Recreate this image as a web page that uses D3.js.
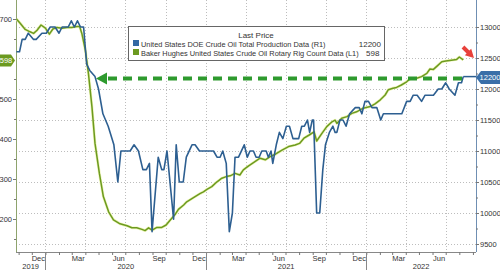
<!DOCTYPE html>
<html>
<head>
<meta charset="utf-8">
<script src="https://cdn.jsdelivr.net/npm/d3@7"></script>
<style>
body { margin: 0; background: #fff; }
text { font-family: "Liberation Sans", Arial, sans-serif; }
</style>
</head>
<body>
<div id="chart"></div>
<script>
// US crude production (R1, thousand b/d) - weekly
var prodDates = ["2019-10-27","2019-11-03","2019-11-09","2019-11-16","2019-11-23","2019-12-05","2019-12-11","2019-12-24",
  "2020-01-03","2020-01-12","2020-01-23","2020-02-01","2020-02-08","2020-02-22","2020-02-29","2020-03-07","2020-03-14",
  "2020-03-21","2020-03-28","2020-04-04","2020-04-11","2020-04-23","2020-05-01","2020-05-11","2020-05-23","2020-06-05",
  "2020-06-14","2020-06-21","2020-07-12","2020-07-21","2020-07-31","2020-08-10","2020-08-18","2020-08-25","2020-08-31",
  "2020-09-14","2020-09-22","2020-09-27","2020-10-04","2020-10-19","2020-10-25","2020-11-01","2020-11-10","2020-11-17",
  "2020-11-30","2020-12-07","2020-12-17","2021-01-18","2021-01-26","2021-02-02","2021-02-08","2021-02-16","2021-02-23",
  "2021-03-02","2021-03-08","2021-03-16","2021-03-29","2021-04-05","2021-04-11","2021-04-19","2021-04-25","2021-05-02",
  "2021-05-08","2021-05-18","2021-05-23","2021-05-29","2021-06-02","2021-06-10","2021-06-17","2021-06-25","2021-07-03",
  "2021-07-10","2021-07-18","2021-07-31","2021-08-07","2021-08-13","2021-08-20","2021-08-25","2021-08-31","2021-09-03",
  "2021-09-10","2021-09-17","2021-09-24","2021-09-30","2021-10-09","2021-10-17","2021-10-22","2021-10-26","2021-11-02",
  "2021-11-09","2021-11-16","2021-11-24","2021-12-07","2021-12-16","2021-12-22","2021-12-29","2022-01-06","2022-01-14",
  "2022-01-25","2022-02-03","2022-02-09","2022-03-23","2022-04-03","2022-04-11","2022-04-18","2022-04-27","2022-05-07",
  "2022-05-15","2022-06-03","2022-06-14","2022-06-22","2022-07-01","2022-07-09","2022-07-22","2022-07-30","2022-08-06",
  "2022-08-10"];
var prodValues = [12600,12600,12800,12800,12900,12800,12800,12900,
  12900,13000,13000,12900,13000,13000,13100,13000,13100,
  13000,13000,12400,12300,12200,12000,11600,11400,11100,
  10500,11000,11000,11100,11000,10700,10700,10800,9700,
  10900,10700,10700,11000,9900,11100,10500,10500,10900,
  11100,11100,11000,11000,10900,10900,11000,10800,9700,
  10000,10900,10900,11100,10900,11000,11000,10900,10900,
  11000,11000,10900,11000,10800,11100,11300,11200,11400,
  11400,11200,11200,11400,11400,11500,11300,11500,11500,
  10000,10000,10700,11100,11300,11400,11300,11300,11500,
  11500,11400,11600,11700,11700,11600,11800,11800,11700,
  11700,11500,11600,11600,11800,11800,11900,11900,11800,
  11900,11900,12000,12000,12100,12000,11900,12100,12100,
  12200];

// Baker Hughes oil rig count (L1)
var rigDates = ["2019-10-27","2019-11-04","2019-11-16","2019-11-27","2019-12-05","2019-12-13","2019-12-22","2020-01-01",
  "2020-01-10","2020-01-18","2020-01-27","2020-02-08","2020-02-19","2020-03-01","2020-03-13","2020-03-19","2020-03-24",
  "2020-04-01","2020-04-08","2020-04-16","2020-04-23","2020-05-03","2020-05-12","2020-05-24","2020-06-04","2020-06-19",
  "2020-07-05","2020-07-16","2020-07-27","2020-08-08","2020-08-15","2020-08-23","2020-08-31","2020-09-11","2020-09-22",
  "2020-10-02","2020-10-11","2020-10-23","2020-10-30","2020-11-11","2020-11-18","2020-11-27","2020-12-07","2020-12-19",
  "2020-12-26","2021-01-03","2021-01-14","2021-01-26","2021-02-06","2021-02-16","2021-02-25","2021-03-08","2021-03-19",
  "2021-03-27","2021-04-08","2021-04-19","2021-05-04","2021-05-16","2021-05-27","2021-06-08","2021-06-23","2021-07-08",
  "2021-07-23","2021-08-02","2021-08-12","2021-08-24","2021-09-04","2021-09-10","2021-09-22","2021-10-03","2021-10-15",
  "2021-10-22","2021-10-26","2021-11-06","2021-11-18","2021-11-29","2021-12-10","2021-12-25","2022-01-10","2022-01-21",
  "2022-02-02","2022-02-13","2022-02-20","2022-03-03","2022-03-11","2022-03-22","2022-04-03","2022-04-11","2022-04-26",
  "2022-05-07","2022-05-19","2022-05-26","2022-06-03","2022-06-10","2022-06-22","2022-07-01","2022-07-14","2022-07-26",
  "2022-08-01","2022-08-10"];
var rigValues = [700,690,674,668,664,672,685,677,
  662,675,679,677,679,679,681,681,664,
  622,564,481,389,314,256,218,198,188,
  183,178,178,174,171,178,172,179,179,
  185,197,212,224,235,243,249,256,264,
  268,274,281,293,302,306,308,314,310,
  323,333,341,352,348,356,362,372,381,
  385,389,402,410,418,395,414,431,443,
  447,439,452,456,464,468,477,481,488,
  498,510,523,527,529,535,543,551,552,
  556,564,575,574,581,593,595,597,599,
  605,598];

var leftTicks = [200, 300, 400, 500, 700];
var leftMinor = [150, 250, 350, 450, 550, 650];
var rightTicks = [9500, 10000, 10500, 11000, 11500, 12000, 12500, 13000];
var rightMinor = [9750, 10250, 10750, 11250, 11750, 12250, 12750];
var legendTitle = "Last Price";
var prodName = "United States DOE Crude Oil Total Production Data  (R1)";
var rigName = "Baker Hughes United States Crude Oil Rotary Rig Count Data  (L1)";
var prodLast = 12200, rigLast = 598;

var W = 500, H = 270;
var left = 16, right = 476, bottom = 252;
var blue = "#2d5f91", green = "#6c9a20";
var parse = d3.timeParse("%Y-%m-%d");

var prod = prodDates.map(function(d, i) { return {date: parse(d), value: prodValues[i]}; });
var rig = rigDates.map(function(d, i) { return {date: parse(d), value: rigValues[i]}; });

var x = d3.scaleTime().domain([parse("2019-10-26"), parse("2022-09-08")]).range([left, right]);
var yL = d3.scaleLinear().domain([200, 700]).range([219, 19]);
var yR = d3.scaleLinear().domain([9500, 13000]).range([244, 27]);

var svg = d3.select("#chart").append("svg")
    .attr("width", W)
    .attr("height", H);

svg.append("defs").append("clipPath").attr("id", "plot")
  .append("rect").attr("x", left).attr("y", 0).attr("width", right - left).attr("height", bottom);

// grid
svg.append("g").selectAll("line").data(rightTicks).enter().append("line")
    .attr("x1", left).attr("x2", right)
    .attr("y1", function(d) { return Math.round(yR(d)) + 0.5; })
    .attr("y2", function(d) { return Math.round(yR(d)) + 0.5; })
    .attr("stroke", "#bdbdbd").attr("stroke-dasharray", "1,2");

var quarters = d3.timeMonth.every(3).range(parse("2020-01-01"), x.domain()[1]);
svg.append("g").selectAll("line").data(quarters).enter().append("line")
    .attr("x1", function(d) { return Math.round(x(d)) + 0.5; })
    .attr("x2", function(d) { return Math.round(x(d)) + 0.5; })
    .attr("y1", 0).attr("y2", bottom)
    .attr("stroke", "#bdbdbd").attr("stroke-dasharray", "1,2");

// axes
var axL = svg.append("g").attr("transform", "translate(" + left + ",0)")
    .call(d3.axisLeft(yL).tickValues(leftTicks).tickSize(3).tickPadding(1).tickFormat(d3.format("d")));
svg.append("g").attr("transform", "translate(" + left + ",0)")
    .call(d3.axisLeft(yL).tickValues(leftMinor).tickSize(2).tickFormat(""))
    .select(".domain").remove();
axL.select(".domain").attr("d", "M0.5,0V" + bottom).attr("stroke", "#8ea36d");

var axR = svg.append("g").attr("transform", "translate(" + right + ",0)")
    .call(d3.axisRight(yR).tickValues(rightTicks).tickSize(3).tickPadding(1).tickFormat(d3.format("d")));
svg.append("g").attr("transform", "translate(" + right + ",0)")
    .call(d3.axisRight(yR).tickValues(rightMinor).tickSize(2).tickFormat(""))
    .select(".domain").remove();
axR.select(".domain").attr("d", "M0.5,0V" + bottom).attr("stroke", "#6f8fb3");

var axB = svg.append("g").attr("transform", "translate(0," + bottom + ")")
    .call(d3.axisBottom(x).ticks(d3.timeMonth.every(1)).tickSize(3).tickFormat(""));
axB.select(".domain").attr("d", "M" + left + ",0.5H" + right).attr("stroke", "#888");

svg.selectAll(".tick line").attr("stroke", "#777");
svg.selectAll(".tick text").attr("font-size", 7.5).attr("fill", "#333")
    .attr("font-family", "Liberation Sans, Arial, sans-serif");

// month labels (mid-month) and year labels
var labelMonths = d3.timeMonth.range(x.domain()[0], x.domain()[1])
    .filter(function(d) { return d.getMonth() % 3 === 2 && x(d3.timeDay.offset(d, 15)) < right; });
svg.append("g").selectAll("text").data(labelMonths).enter().append("text")
    .attr("x", function(d) { return x(d3.timeDay.offset(d, 15)); })
    .attr("y", 261)
    .attr("text-anchor", "middle")
    .attr("font-size", 7.5).attr("fill", "#333")
    .text(d3.timeFormat("%b"));

var years = [2019, 2020, 2021, 2022];
svg.append("g").selectAll("line").data(years.slice(1)).enter().append("line")
    .attr("x1", function(d) { return Math.round(x(new Date(d, 0, 1))) + 0.5; })
    .attr("x2", function(d) { return Math.round(x(new Date(d, 0, 1))) + 0.5; })
    .attr("y1", bottom).attr("y2", H)
    .attr("stroke", "#888");
svg.append("g").selectAll("text").data(years).enter().append("text")
    .attr("x", function(d) {
      var a = Math.max(x(new Date(d, 0, 1)), left), b = Math.min(x(new Date(d + 1, 0, 1)), right);
      return (a + b) / 2;
    })
    .attr("y", 269)
    .attr("text-anchor", "middle")
    .attr("font-size", 7.5).attr("fill", "#333")
    .text(function(d) { return d; });

// series
var plot = svg.append("g").attr("clip-path", "url(#plot)");
var lineL = d3.line().x(function(d) { return x(d.date); }).y(function(d) { return yL(d.value); });
var lineR = d3.line().x(function(d) { return x(d.date); }).y(function(d) { return yR(d.value); });

plot.append("path").datum(rig).attr("d", lineL)
    .attr("fill", "none").attr("stroke", "#eef5b8").attr("stroke-width", 2.8).attr("stroke-linejoin", "round");
plot.append("path").datum(rig).attr("d", lineL)
    .attr("fill", "none").attr("stroke", green).attr("stroke-width", 1.5).attr("stroke-linejoin", "round");
plot.append("path").datum(prod).attr("d", lineR)
    .attr("fill", "none").attr("stroke", blue).attr("stroke-width", 1.6).attr("stroke-linejoin", "round");

var lastP = prod[prod.length - 1];
plot.append("line")
    .attr("x1", x(lastP.date)).attr("x2", right)
    .attr("y1", yR(lastP.value)).attr("y2", yR(lastP.value))
    .attr("stroke", blue).attr("stroke-width", 1.5);

// legend
var lg = svg.append("g");
lg.append("rect").attr("x", 128.5).attr("y", 26.5).attr("width", 256).attr("height", 34)
    .attr("fill", "#fff").attr("stroke", "#666");
lg.append("text").attr("x", 256).attr("y", 38).attr("text-anchor", "middle")
    .attr("font-size", 8).attr("fill", "#333").text(legendTitle);
lg.append("rect").attr("x", 133).attr("y", 40).attr("width", 6).attr("height", 6).attr("fill", "#3268a3");
lg.append("rect").attr("x", 133).attr("y", 49).attr("width", 6).attr("height", 6).attr("fill", green);

// legend names squeezed horizontally to the reference widths
function squeezed(txt, px, py, target) {
  var t = lg.append("text").attr("font-size", 8).attr("fill", "#333").text(txt);
  var w = t.node().getComputedTextLength();
  t.attr("transform", "translate(" + px + "," + py + ") scale(" + (target / w) + ",1)");
}
squeezed(prodName, 141, 46.5, 185);
squeezed(rigName, 141, 55.5, 218);

lg.append("text").attr("x", 381).attr("y", 46.5).attr("text-anchor", "end")
    .attr("font-size", 8).attr("fill", "#333").text(prodLast);
lg.append("text").attr("x", 366).attr("y", 55.5)
    .attr("font-size", 8).attr("fill", "#333").text(rigLast);

// green dashed arrow annotation
svg.append("line").attr("x1", 108).attr("x2", 463).attr("y1", 78.5).attr("y2", 78.5)
    .attr("stroke", "#2e9a2e").attr("stroke-width", 4).attr("stroke-dasharray", "9,6");
svg.append("path").attr("d", "M96,78.5L107,72.5L107,84.5Z").attr("fill", "#2e9a2e");

// red arrow
svg.append("path")
    .attr("d", "M474,58L464.8,55.2L466.6,53.4L461.6,48.4L464.4,45.6L469.4,50.6L471.2,48.8Z")
    .attr("fill", "#e8413b");

// last value tags
var yp = Math.round(yR(prodLast)) + 0.5;
svg.append("path").attr("d", "M" + right + "," + yp + "L481," + (yp - 6.5) + "L500," + (yp - 6.5) + "L500," + (yp + 6.5) + "L481," + (yp + 6.5) + "Z")
    .attr("fill", "#3a6fa8");
svg.append("text").attr("x", 490).attr("y", yp + 2.8).attr("text-anchor", "middle")
    .attr("font-size", 7.5).attr("fill", "#fff").text(prodLast);

var yg = Math.round(yL(rigLast)) + 0.5;
svg.append("path").attr("d", "M0," + (yg - 6) + "L11," + (yg - 6) + "L15," + yg + "L11," + (yg + 6) + "L0," + (yg + 6) + "Z")
    .attr("fill", green);
svg.append("text").attr("x", 6).attr("y", yg + 2.8).attr("text-anchor", "middle")
    .attr("font-size", 7.5).attr("fill", "#fff").text(rigLast);
</script>
</body>
</html>
